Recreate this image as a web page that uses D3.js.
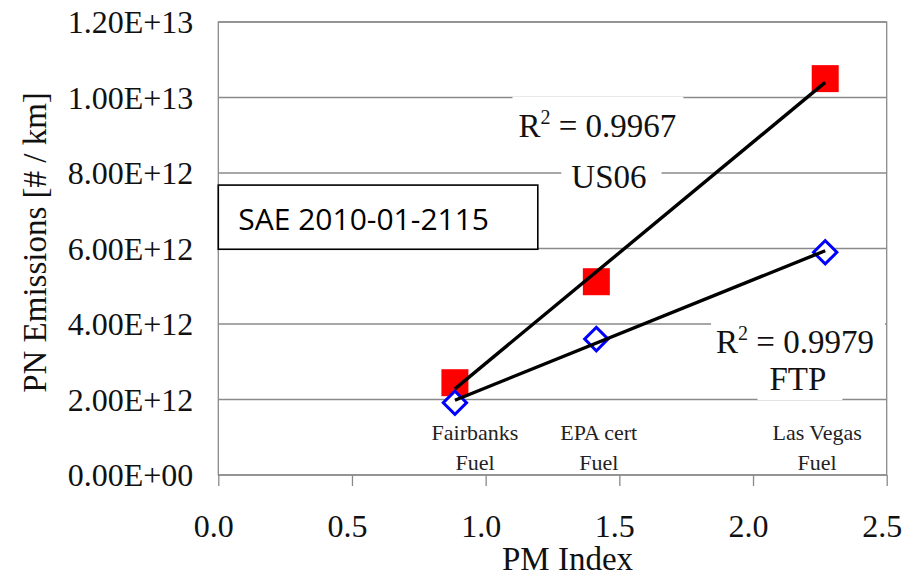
<!DOCTYPE html>
<html>
<head>
<meta charset="utf-8">
<script src="https://cdn.jsdelivr.net/npm/d3@7"></script>
<style>
  html, body { margin: 0; padding: 0; background: #fff; }
  svg { display: block; }
</style>
</head>
<body>
<figure id="chart" style="margin:0"></figure>
<script>
// data
const pmIndex = [0.885, 1.414, 2.27];
const us06Values = [2.445e12, 5.12e12, 10.50e12];
const ftpValues = [1.915e12, 3.60e12, 5.90e12];
const fuelNames = [["Fairbanks", "Fuel"], ["EPA cert", "Fuel"], ["Las Vegas", "Fuel"]];
const fuelLabelX = [0.96, 1.423, 2.24];
const xTicks = [0, 0.5, 1.0, 1.5, 2.0, 2.5];
const yTicks = [0, 2e12, 4e12, 6e12, 8e12, 10e12, 12e12];
const r2Text = { us06: "0.9967", ftp: "0.9979" };

const width = 914, height = 577;
const marginLeft = 218.3, marginTop = 22, marginRight = 27.3, marginBottom = 102;
const serif = "'Liberation Serif', 'Times New Roman', serif";

const svg = d3.select("figure#chart")
  .append("svg")
  .attr("width", width)
  .attr("height", height)
  .attr("viewBox", [0, 0, width, height]);

const x = d3.scaleLinear().domain([0, 2.5]).range([marginLeft, width - marginRight]);
const y = d3.scaleLinear().domain([0, 1.2e13]).range([height - marginBottom, marginTop]);

// gridlines + frame
svg.append("g")
    .attr("stroke", "#8a8a8a")
    .attr("stroke-width", 1.3)
  .selectAll()
  .data(yTicks)
  .join("line")
    .attr("x1", x(0))
    .attr("x2", x(2.5))
    .attr("y1", d => y(d))
    .attr("y2", d => y(d));

svg.append("rect")
    .attr("x", x(0))
    .attr("y", y(1.2e13))
    .attr("width", x(2.5) - x(0))
    .attr("height", y(0) - y(1.2e13))
    .attr("fill", "none")
    .attr("stroke", "#8a8a8a")
    .attr("stroke-width", 1.3);

// x axis: ticks below, labels
svg.append("g")
    .attr("transform", `translate(0,${y(0)})`)
    .call(d3.axisBottom(x).tickValues(xTicks).tickSize(11).tickSizeOuter(0).tickPadding(8)
      .tickFormat(d3.format(".1f")))
    .call(g => g.select(".domain").remove())
    .call(g => g.selectAll(".tick line").attr("stroke", "#8a8a8a").attr("stroke-width", 1.3))
    .call(g => g.selectAll(".tick text")
      .attr("font-family", serif)
      .attr("font-size", 32)
      .attr("fill", "#111")
      .attr("dx", -5)
      .attr("dy", "1.35em"));

// y axis labels
const sci = d => {
  if (d === 0) return "0.00E+00";
  const e = Math.floor(Math.log10(d));
  return (d / Math.pow(10, e)).toFixed(2) + "E+" + String(e).padStart(2, "0");
};
svg.append("g")
    .attr("transform", `translate(${x(0)},0)`)
    .call(d3.axisLeft(y).tickValues(yTicks).tickSize(0).tickPadding(25).tickFormat(sci))
    .call(g => g.select(".domain").remove())
    .call(g => g.selectAll(".tick text")
      .attr("font-family", serif)
      .attr("font-size", 32)
      .attr("fill", "#111")
      .attr("dy", "0.34em"));

// axis titles
svg.append("text")
    .attr("x", (x(0) + x(2.5)) / 2 + 15)
    .attr("y", 570)
    .attr("text-anchor", "middle")
    .attr("font-family", serif)
    .attr("font-size", 33)
    .attr("fill", "#111")
    .text("PM Index");

svg.append("text")
    .attr("transform", `translate(46,${(y(0) + y(1.2e13)) / 2 - 6}) rotate(-90)`)
    .attr("text-anchor", "middle")
    .attr("font-family", serif)
    .attr("font-size", 33)
    .attr("fill", "#111")
    .text("PN Emissions [# / km]");

// least-squares trend lines, drawn from min x to max x
function fit(xs, ys) {
  const mx = d3.mean(xs), my = d3.mean(ys);
  const sxy = d3.sum(xs, (v, i) => (v - mx) * (ys[i] - my));
  const sxx = d3.sum(xs, v => (v - mx) * (v - mx));
  const slope = sxy / sxx;
  const x0 = d3.min(xs), x1 = d3.max(xs);
  return [[x0, my + slope * (x0 - mx)], [x1, my + slope * (x1 - mx)]];
}
const line = d3.line().x(d => x(d[0])).y(d => y(d[1]));

// category labels inside plot
const cat = svg.append("g")
    .attr("font-family", serif)
    .attr("font-size", 22)
    .attr("fill", "#222")
    .attr("text-anchor", "middle")
  .selectAll()
  .data(fuelNames)
  .join("text")
    .attr("x", (d, i) => x(fuelLabelX[i]))
    .attr("y", y(0.93e12));
cat.append("tspan").text(d => d[0]);
cat.append("tspan")
    .attr("x", (d, i) => x(fuelLabelX[i]))
    .attr("dy", 30)
    .text(d => d[1]);

// markers
const redSq = d3.symbol().type(d3.symbolSquare).size(27 * 27);
svg.append("g")
    .attr("fill", "#ff0000")
  .selectAll()
  .data(pmIndex)
  .join("path")
    .attr("transform", (d, i) => `translate(${x(d)},${y(us06Values[i])})`)
    .attr("d", redSq);

const diamond = d3.symbol().type(d3.symbolSquare).size(16.5 * 16.5);
svg.append("g")
    .attr("fill", "#fff")
    .attr("stroke", "#0000ff")
    .attr("stroke-width", 3)
  .selectAll()
  .data(pmIndex)
  .join("path")
    .attr("transform", (d, i) => `translate(${x(d)},${y(ftpValues[i])}) rotate(45)`)
    .attr("d", diamond);

svg.append("g")
    .attr("fill", "none")
    .attr("stroke", "#000")
    .attr("stroke-width", 3.4)
  .selectAll()
  .data([fit(pmIndex, us06Values), fit(pmIndex, ftpValues)])
  .join("path")
    .attr("d", line);

// text annotations with white boxes covering the gridlines
const notes = [
  { r2: r2Text.us06, cx: 1.418, v: 8.96e12, padL: 6, padR: 7, padTop: 40, padBot: 6 },
  { text: "US06", cx: 1.461, v: 7.59e12, padL: 10, padR: 15, padTop: 26, padBot: 6 },
  { r2: r2Text.ftp, cx: 2.157, v: 3.22e12, padL: 5, padR: 11, padTop: 32, padBot: 6 },
  { text: "FTP", cx: 2.168, v: 2.25e12, padL: 12, padR: 16, padTop: 26, padBot: 10 }
];
notes.forEach(n => {
  const g = svg.append("g");
  const bg = g.append("rect").attr("fill", "#fff");
  const t = g.append("text")
      .attr("x", x(n.cx))
      .attr("y", y(n.v))
      .attr("text-anchor", "middle")
      .attr("font-family", serif)
      .attr("font-size", 33)
      .attr("fill", "#111");
  if (n.r2) {
    t.append("tspan").text("R");
    t.append("tspan").attr("font-size", 20).attr("dy", -13).text("2");
    t.append("tspan").attr("dy", 13).text(" = " + n.r2);
  } else {
    t.text(n.text);
  }
  const len = t.node().getComputedTextLength();
  const left = x(n.cx) - len / 2;
  bg.attr("x", left - n.padL)
    .attr("y", y(n.v) - n.padTop)
    .attr("width", len + n.padL + n.padR)
    .attr("height", n.padTop + n.padBot);
});

// source box
const src = svg.append("g");
src.append("rect")
    .attr("x", x(0))
    .attr("y", y(7.68e12))
    .attr("width", x(1.195) - x(0))
    .attr("height", y(5.98e12) - y(7.68e12))
    .attr("fill", "#fff")
    .attr("stroke", "#000")
    .attr("stroke-width", 1.6);
src.append("text")
    .attr("x", x(0) + 20)
    .attr("y", y(7.68e12) + 45)
    .attr("font-family", "'Open Sans', 'Noto Sans', sans-serif")
    .attr("font-size", 30)
    .attr("fill", "#000")
    .text("SAE 2010-01-2115");
</script>
</body>
</html>
